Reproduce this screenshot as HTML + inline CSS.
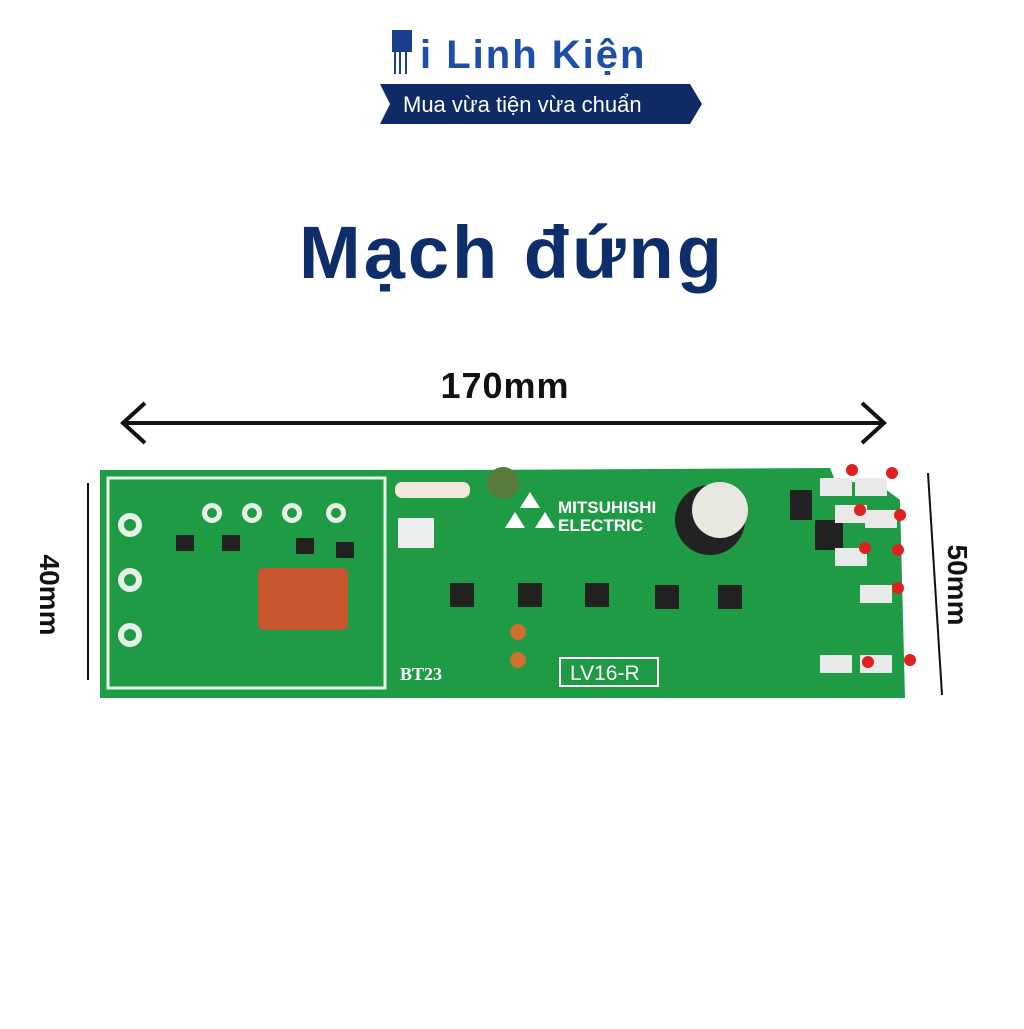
<!DOCTYPE html>
<html><head><meta charset="utf-8"><style>
body{margin:0;width:1024px;height:1024px;background:#fff;overflow:hidden;font-family:"Liberation Sans",sans-serif}
</style></head><body>
<svg width="1024" height="1024" viewBox="0 0 1024 1024" xmlns="http://www.w3.org/2000/svg">
<!-- logo -->
<rect x="392" y="30" width="20" height="22" fill="#1a3f8f"/>
<path d="M395 52 v22 M400 52 v22 M406 52 v22" stroke="#1a3f8f" stroke-width="2" fill="none"/>
<text x="420" y="68" font-size="40" font-weight="bold" letter-spacing="2" fill="#1d4fa8">i Linh Kiện</text>
<polygon points="380,84 690,84 702,104 690,124 380,124 390,104" fill="#0f2b66"/>
<text x="403" y="112" font-size="22" fill="#fff">Mua vừa tiện vừa chuẩn</text>
<!-- title -->
<text x="512" y="278" text-anchor="middle" font-size="74" font-weight="bold" letter-spacing="3" fill="#0e2d6b">Mạch đứng</text>
<text x="505" y="398" text-anchor="middle" font-size="36" font-weight="bold" letter-spacing="1" fill="#111">170mm</text>
<!-- arrow -->
<line x1="125" y1="423" x2="882" y2="423" stroke="#111" stroke-width="4"/>
<path d="M145 403 L123 423 L145 443 M862 403 L884 423 L862 443" stroke="#111" stroke-width="4" fill="none"/>
<!-- vertical dims -->
<line x1="88" y1="483" x2="88" y2="680" stroke="#111" stroke-width="2"/>
<text transform="translate(40,595) rotate(90)" text-anchor="middle" font-size="28" font-weight="bold" fill="#111">40mm</text>
<line x1="928" y1="473" x2="942" y2="695" stroke="#111" stroke-width="2"/>
<text transform="translate(948,585) rotate(90)" text-anchor="middle" font-size="28" font-weight="bold" fill="#111">50mm</text>
<!-- board -->
<polygon points="100,470 470,470 830,468 835,480 880,485 900,500 905,698 100,698" fill="#1f9b46"/>
<rect x="108" y="478" width="277" height="210" fill="none" stroke="#e8f5e8" stroke-width="3"/>
<g fill="#e6f0e6"><circle cx="130" cy="525" r="12"/><circle cx="130" cy="580" r="12"/><circle cx="130" cy="635" r="12"/>
<circle cx="212" cy="513" r="10"/><circle cx="252" cy="513" r="10"/><circle cx="292" cy="513" r="10"/><circle cx="336" cy="513" r="10"/></g>
<g fill="#1f9b46"><circle cx="130" cy="525" r="6"/><circle cx="130" cy="580" r="6"/><circle cx="130" cy="635" r="6"/>
<circle cx="212" cy="513" r="5"/><circle cx="252" cy="513" r="5"/><circle cx="292" cy="513" r="5"/><circle cx="336" cy="513" r="5"/></g>
<rect x="258" y="568" width="90" height="62" rx="6" fill="#c8562e"/>
<g fill="#222"><rect x="176" y="535" width="18" height="16"/><rect x="222" y="535" width="18" height="16"/><rect x="296" y="538" width="18" height="16"/><rect x="336" y="542" width="18" height="16"/>
<rect x="450" y="583" width="24" height="24"/><rect x="518" y="583" width="24" height="24"/><rect x="585" y="583" width="24" height="24"/><rect x="655" y="585" width="24" height="24"/><rect x="718" y="585" width="24" height="24"/>
<circle cx="710" cy="520" r="35"/><rect x="815" y="520" width="28" height="30"/><rect x="790" y="490" width="22" height="30"/></g>
<circle cx="720" cy="510" r="28" fill="#e8e8e0"/>
<rect x="395" y="482" width="75" height="16" rx="7" fill="#f0e8d8"/>
<circle cx="503" cy="483" r="16" fill="#5a7a3a"/>
<rect x="398" y="518" width="36" height="30" fill="#eee"/>
<text x="558" y="513" font-size="17" font-weight="bold" fill="#fff">MITSUHISHI</text>
<text x="558" y="531" font-size="17" font-weight="bold" fill="#fff">ELECTRIC</text>
<polygon points="530,492 520,508 540,508 530,492" fill="#fff"/><polygon points="505,528 515,512 525,528" fill="#fff"/><polygon points="535,528 545,512 555,528" fill="#fff"/>
<rect x="560" y="658" width="98" height="28" fill="none" stroke="#fff" stroke-width="2"/>
<text x="570" y="680" font-size="21" fill="#fff">LV16-R</text>
<text x="400" y="680" font-size="18" font-weight="bold" font-family="Liberation Serif" fill="#fff">BT23</text>
<g fill="#e9e9e9"><rect x="820" y="478" width="32" height="18"/><rect x="855" y="478" width="32" height="18"/><rect x="835" y="505" width="32" height="18"/><rect x="865" y="510" width="32" height="18"/><rect x="835" y="548" width="32" height="18"/><rect x="860" y="585" width="32" height="18"/><rect x="820" y="655" width="32" height="18"/><rect x="860" y="655" width="32" height="18"/></g>
<g fill="#e02020"><circle cx="852" cy="470" r="6"/><circle cx="892" cy="473" r="6"/><circle cx="860" cy="510" r="6"/><circle cx="900" cy="515" r="6"/><circle cx="865" cy="548" r="6"/><circle cx="898" cy="550" r="6"/><circle cx="898" cy="588" r="6"/><circle cx="868" cy="662" r="6"/><circle cx="910" cy="660" r="6"/></g>
<g fill="#d07030"><circle cx="518" cy="632" r="8"/><circle cx="518" cy="660" r="8"/></g>
</svg>
</body></html>
